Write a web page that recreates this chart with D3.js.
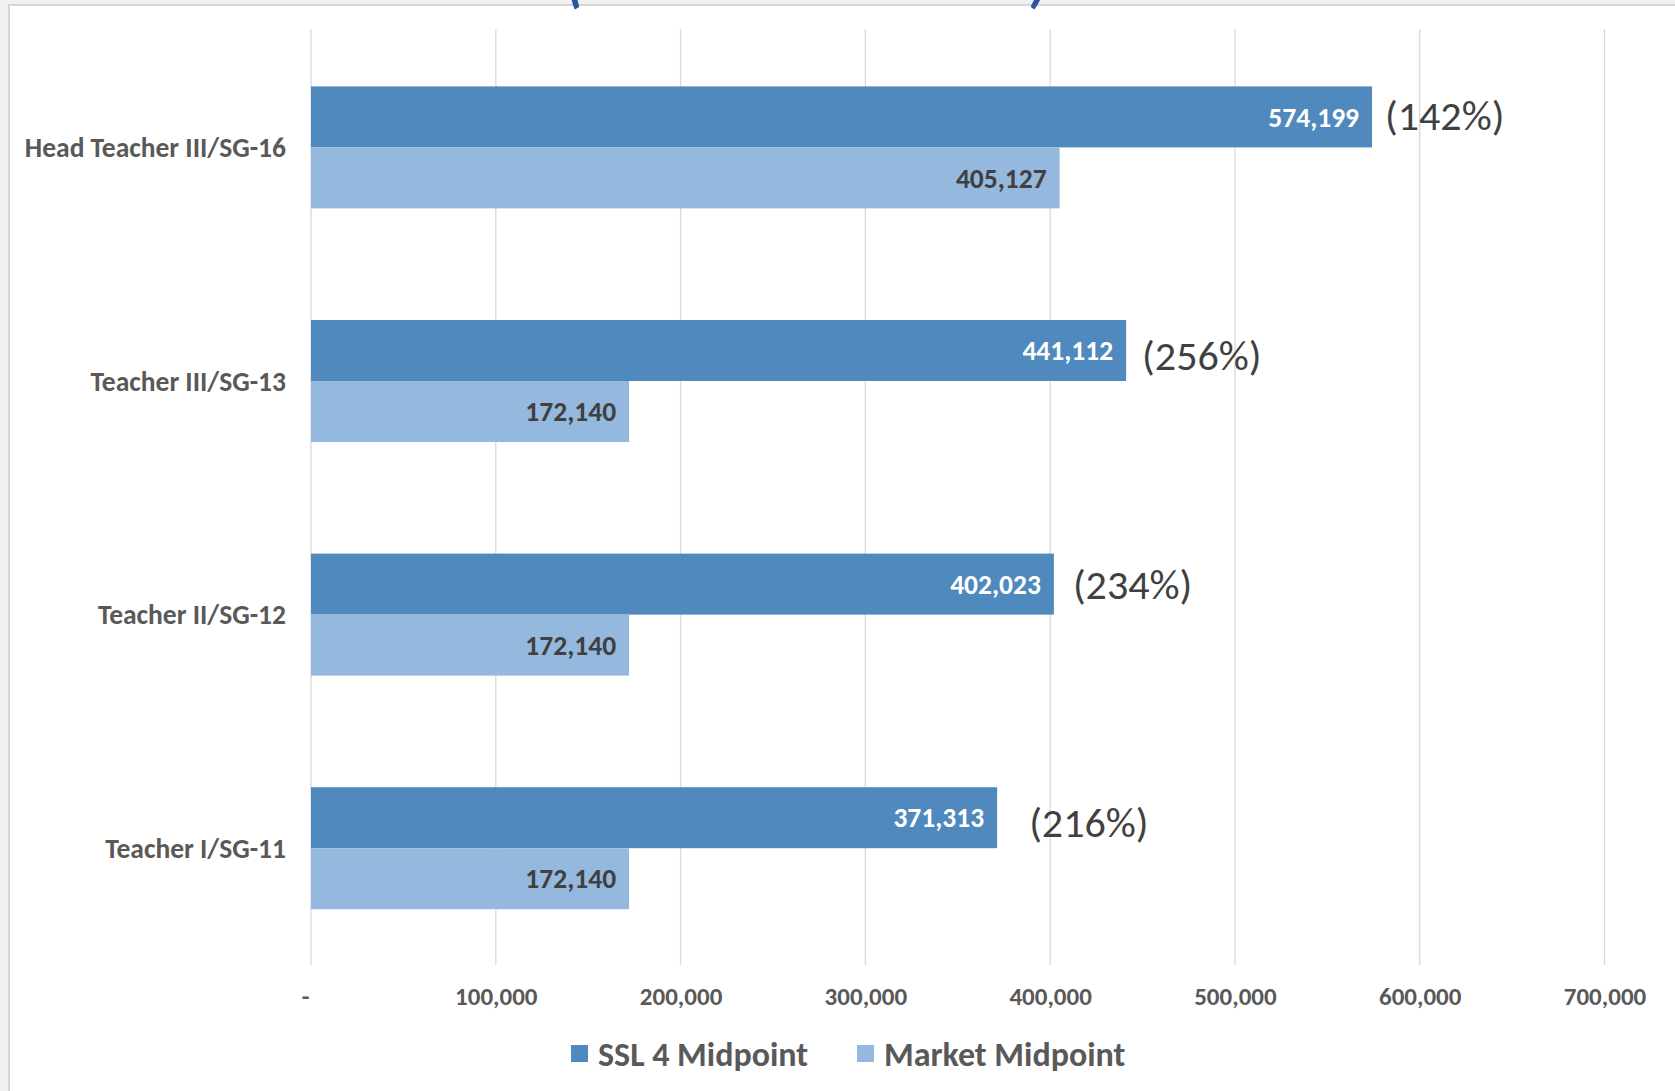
<!DOCTYPE html>
<html>
<head>
<meta charset="utf-8">
<script src="https://cdn.jsdelivr.net/npm/d3@7"></script>
<style>
  body { margin: 0; background: #f0f0f0; }
  svg { display: block; }
  text { font-family: Carlito, Calibri, Lato, sans-serif; }
</style>
</head>
<body>
<div id="chart"></div>
<script>
// chart data
var categories = ["Head Teacher III/SG-16", "Teacher III/SG-13", "Teacher II/SG-12", "Teacher I/SG-11"];
var seriesNames = ["SSL 4 Midpoint", "Market Midpoint"];
var ssl4 = [574199, 441112, 402023, 371313];
var market = [405127, 172140, 172140, 172140];
var pctLabels = ["(142%)", "(256%)", "(234%)", "(216%)"];
var xTicks = [0, 100000, 200000, 300000, 400000, 500000, 600000, 700000];

// the % notes were placed by hand in the original, small nudges [dx, dy]
var noteShift = [[13, -2], [16, 5], [19, 0], [32, 5]];

var width = 1675, height = 1091;
var colors = {ssl: "#4f89bd", mkt: "#95b8df"};

var svg = d3.select("#chart").append("svg").attr("width", width).attr("height", height);

// window frame
svg.append("rect").attr("x", 0).attr("y", 0).attr("width", width).attr("height", height).attr("fill", "#f0f0f0");
svg.append("rect").attr("x", 8).attr("y", 4).attr("width", width - 8).attr("height", height - 4).attr("fill", "#d6d6d6");
svg.append("rect").attr("x", 10).attr("y", 6).attr("width", width - 10).attr("height", height - 6).attr("fill", "#ffffff");

// the title sits above the visible area, only the bottom of its brackets shows
var title = svg.append("g").attr("fill", "#2b55a0")
  .style("font-size", "56px").style("font-style", "italic").style("font-weight", "bold");
title.append("text").attr("x", 567).attr("y", 1).text("(");
title.append("text").attr("x", 1030).attr("y", 1).text(")");

var x = d3.scaleLinear().domain([0, 700000]).range([311, 1604.5]);
var y = d3.scaleBand().domain(categories).range([30.6, 965]).padding(0);
var inner = d3.scaleBand().domain(["ssl", "mkt"]).range([-61, 61]);

var fmt = d3.format(",");

// gridlines
svg.append("g").selectAll("line").data(xTicks).enter().append("line")
  .attr("x1", d => x(d)).attr("x2", d => x(d))
  .attr("y1", 29).attr("y2", 965)
  .attr("stroke", "#d9d9d9").attr("stroke-width", 1.3);

// x axis labels
var xAxis = d3.axisBottom(x).tickValues(xTicks).tickSize(0).tickPadding(0)
  .tickFormat(d => d === 0 ? "-" : fmt(d));
var gx = svg.append("g").attr("transform", "translate(0,996)").call(xAxis);
gx.select(".domain").remove();
gx.selectAll("text").attr("dy", "0.35em").attr("fill", "#595959")
  .attr("dx", d => d === 0 ? -6 : 0)
  .style("font-size", "25px").style("font-weight", "bold");

// y axis labels
var yAxis = d3.axisLeft(y).tickSize(0).tickPadding(0);
var gy = svg.append("g").attr("transform", "translate(286,0)").call(yAxis);
gy.select(".domain").remove();
gy.selectAll("text").attr("fill", "#595959").attr("dy", "0.35em")
  .style("font-size", "27.5px").style("font-weight", "bold");

var rows = categories.map((c, i) => ({cat: c, ssl: ssl4[i], mkt: market[i], pct: pctLabels[i], shift: noteShift[i]}));

var groups = svg.append("g").selectAll("g").data(rows).enter().append("g")
  .attr("transform", d => "translate(0," + (y(d.cat) + y.bandwidth() / 2) + ")");

["ssl", "mkt"].forEach(function(k) {
  groups.append("rect")
    .attr("x", x(0)).attr("y", inner(k))
    .attr("width", d => x(d[k]) - x(0)).attr("height", inner.bandwidth())
    .attr("fill", colors[k]);
  groups.append("text")
    .attr("x", d => x(d[k]) - 13).attr("y", inner(k) + inner.bandwidth() / 2)
    .attr("dy", "0.35em").attr("text-anchor", "end")
    .attr("fill", k === "ssl" ? "#ffffff" : "#404040")
    .style("font-size", "27.5px").style("font-weight", "bold")
    .text(d => fmt(d[k]));
});

// percentage notes next to the SSL bars
groups.append("text")
  .attr("x", d => x(d.ssl) + d.shift[0]).attr("y", d => inner("ssl") + inner.bandwidth() / 2 + d.shift[1])
  .attr("dy", "0.35em").attr("fill", "#404040")
  .style("font-size", "42px")
  .text(d => d.pct);

// legend
var legend = svg.append("g").attr("transform", "translate(0,1054)");
var legX = [571, 857];
seriesNames.forEach(function(name, i) {
  legend.append("rect").attr("x", legX[i]).attr("y", -9).attr("width", 17).attr("height", 17)
    .attr("fill", i === 0 ? colors.ssl : colors.mkt);
  legend.append("text").attr("x", legX[i] + 27).attr("y", 0).attr("dy", "0.35em")
    .attr("fill", "#595959").style("font-size", "34px").style("font-weight", "bold")
    .text(name);
});
</script>
</body>
</html>
